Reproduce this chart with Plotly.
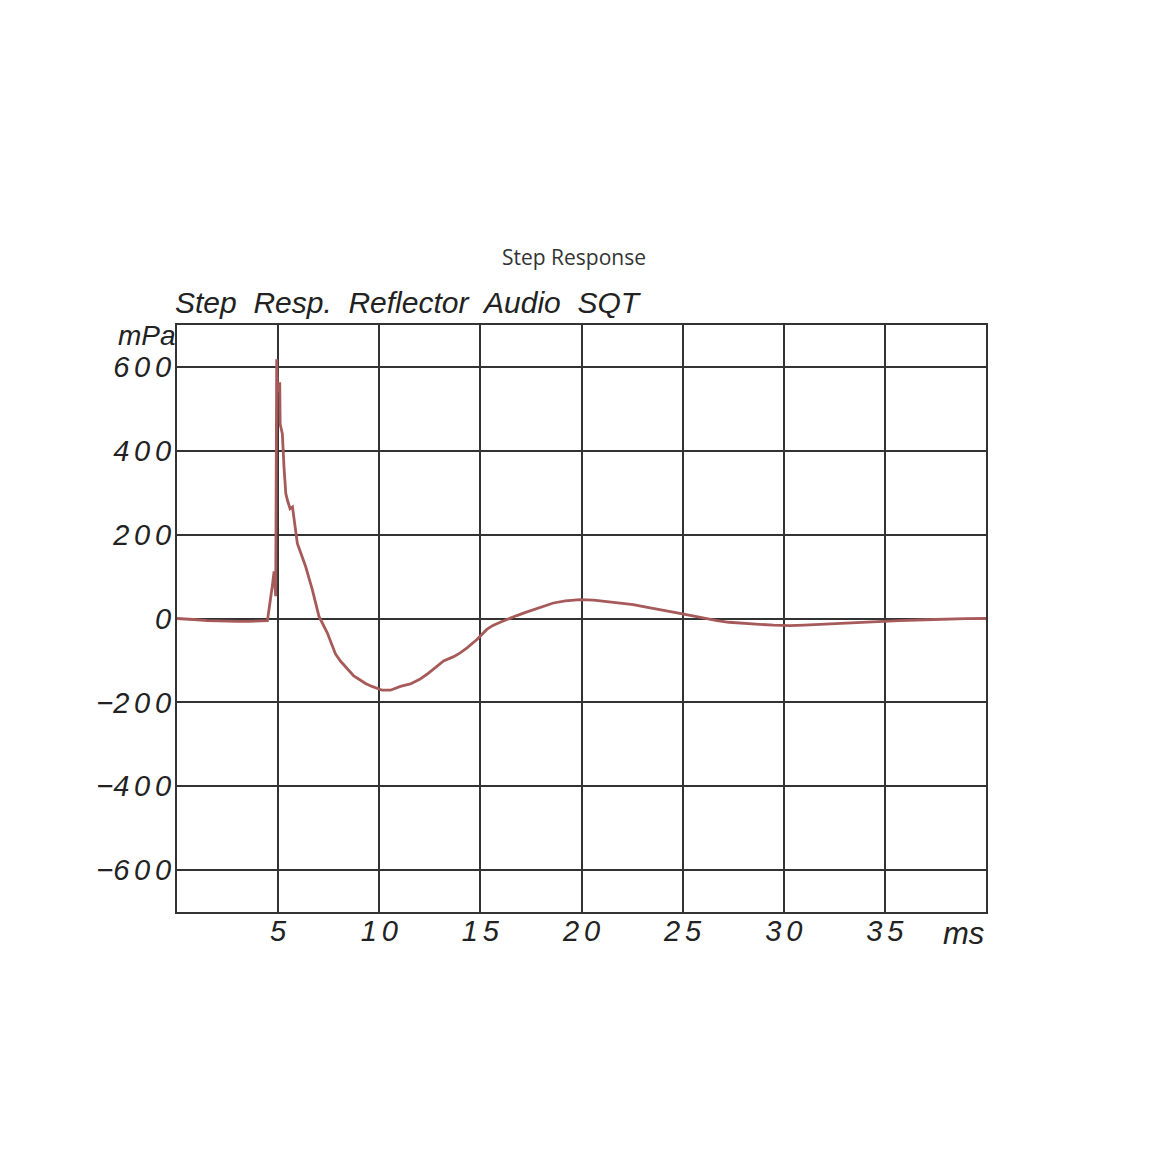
import plotly.graph_objects as go

# Step response data (time in ms, pressure in mPa)
time_ms = [0.0, 0.5, 1.0, 1.5, 2.0, 2.5, 3.0, 3.5, 4.0, 4.4, 4.47, 4.72, 4.80, 4.88, 4.93, 4.97,
           5.0, 5.05, 5.08, 5.10, 5.21, 5.29, 5.38, 5.46, 5.59, 5.71, 5.79, 5.95, 6.12, 6.36,
           6.69, 7.02, 7.43, 7.84, 8.09, 8.4, 8.74, 9.0, 9.32, 9.64, 9.96, 10.15, 10.55,
           11.05, 11.54, 12.0, 12.36, 12.8, 13.18, 13.68, 14.0, 14.34, 14.83, 15.32, 15.6,
           15.98, 16.4, 16.8, 17.2, 17.62, 18.1, 18.61, 19.2, 19.93, 20.6, 21.24, 21.9,
           22.56, 23.0, 23.4, 24.0, 24.86, 25.5, 26.1, 26.7, 27.3, 28.0, 28.8, 29.5, 30.3,
           31.0, 31.8, 32.7, 33.7, 34.7, 35.7, 37.0, 38.2, 39.0, 40.0]
pressure_mpa = [0, -1, -3, -5, -6, -7, -7, -7, -6, -5, -5, 80, 112, 53, 618, 540,
                559, 560, 560, 464, 440, 361, 298, 282, 262, 266, 235, 179, 156, 124,
                69, 5, -34, -85, -102, -118, -137, -145, -155, -162, -168, -171, -171,
                -162, -156, -145, -133, -117, -101, -91, -82, -70, -50, -26, -17,
                -9, 0, 7, 14, 21, 30, 37, 42, 45, 44, 41, 37,
                33, 29, 25, 20, 12, 6, 0, -5, -9, -12, -14, -16, -17,
                -16, -14, -12, -9, -7, -5, -3, -1, -0.5, 0]

x_ticks = [5, 10, 15, 20, 25, 30, 35]
y_ticks = [-600, -400, -200, 0, 200, 400, 600]

SP = "\u2006"


def spaced(v):
    s = SP.join(str(abs(v)))
    return ("\u2212" + s) if v < 0 else s


fig = go.Figure()
fig.add_trace(go.Scatter(
    x=time_ms, y=pressure_mpa, mode="lines",
    line=dict(color="#a65a5a", width=2.8),
    showlegend=False, hoverinfo="x+y",
))

tick_font = dict(family="Liberation Sans", size=29, color="#222", style="italic")
grid_col = "#333"

fig.update_layout(
    width=1175, height=1175,
    paper_bgcolor="white", plot_bgcolor="white",
    margin=dict(l=169, r=197, t=317, b=271),
    title=dict(text="Step Response", x=566 / 1175, xref="container", xanchor="center",
               y=1 - 250 / 1175, yref="container", yanchor="middle",
               font=dict(family="Open Sans", size=21, color="#333")),
    xaxis=dict(range=[0, 40], tickvals=x_ticks, ticktext=[spaced(v) for v in x_ticks],
               showgrid=True, gridcolor=grid_col, gridwidth=1.5,
               showline=True, linecolor=grid_col, linewidth=2, mirror=True,
               zeroline=False, ticks="", tickfont=tick_font, ticklabelstandoff=-8),
    yaxis=dict(range=[-700, 700], tickvals=y_ticks, ticktext=[spaced(v) for v in y_ticks],
               showgrid=True, gridcolor=grid_col, gridwidth=1.5,
               showline=True, linecolor=grid_col, linewidth=2, mirror=True,
               zeroline=False, ticks="", tickfont=tick_font, ticklabelstandoff=-2),
)

ann_font = dict(family="Liberation Sans", size=28, color="#222", style="italic")
fig.add_annotation(text="Step\u00a0 Resp.\u00a0 Reflector\u00a0 Audio\u00a0 SQT",
                   xref="paper", yref="paper", x=0, y=1, xanchor="left", yanchor="bottom",
                   showarrow=False,
                   font=dict(family="Liberation Sans", size=30, color="#222", style="italic"),
                   xshift=-4, yshift=4)
fig.add_annotation(text="mPa", xref="paper", yref="paper", x=0, y=1, xanchor="right", yanchor="top",
                   showarrow=False, font=ann_font, xshift=1, yshift=7)
fig.add_annotation(text="ms", xref="paper", yref="paper", x=1, y=0, xanchor="right", yanchor="top",
                   showarrow=False, font=dict(family="Liberation Sans", size=31, color="#222", style="italic"),
                   xshift=0, yshift=-2)

fig.write_html("out.html")
